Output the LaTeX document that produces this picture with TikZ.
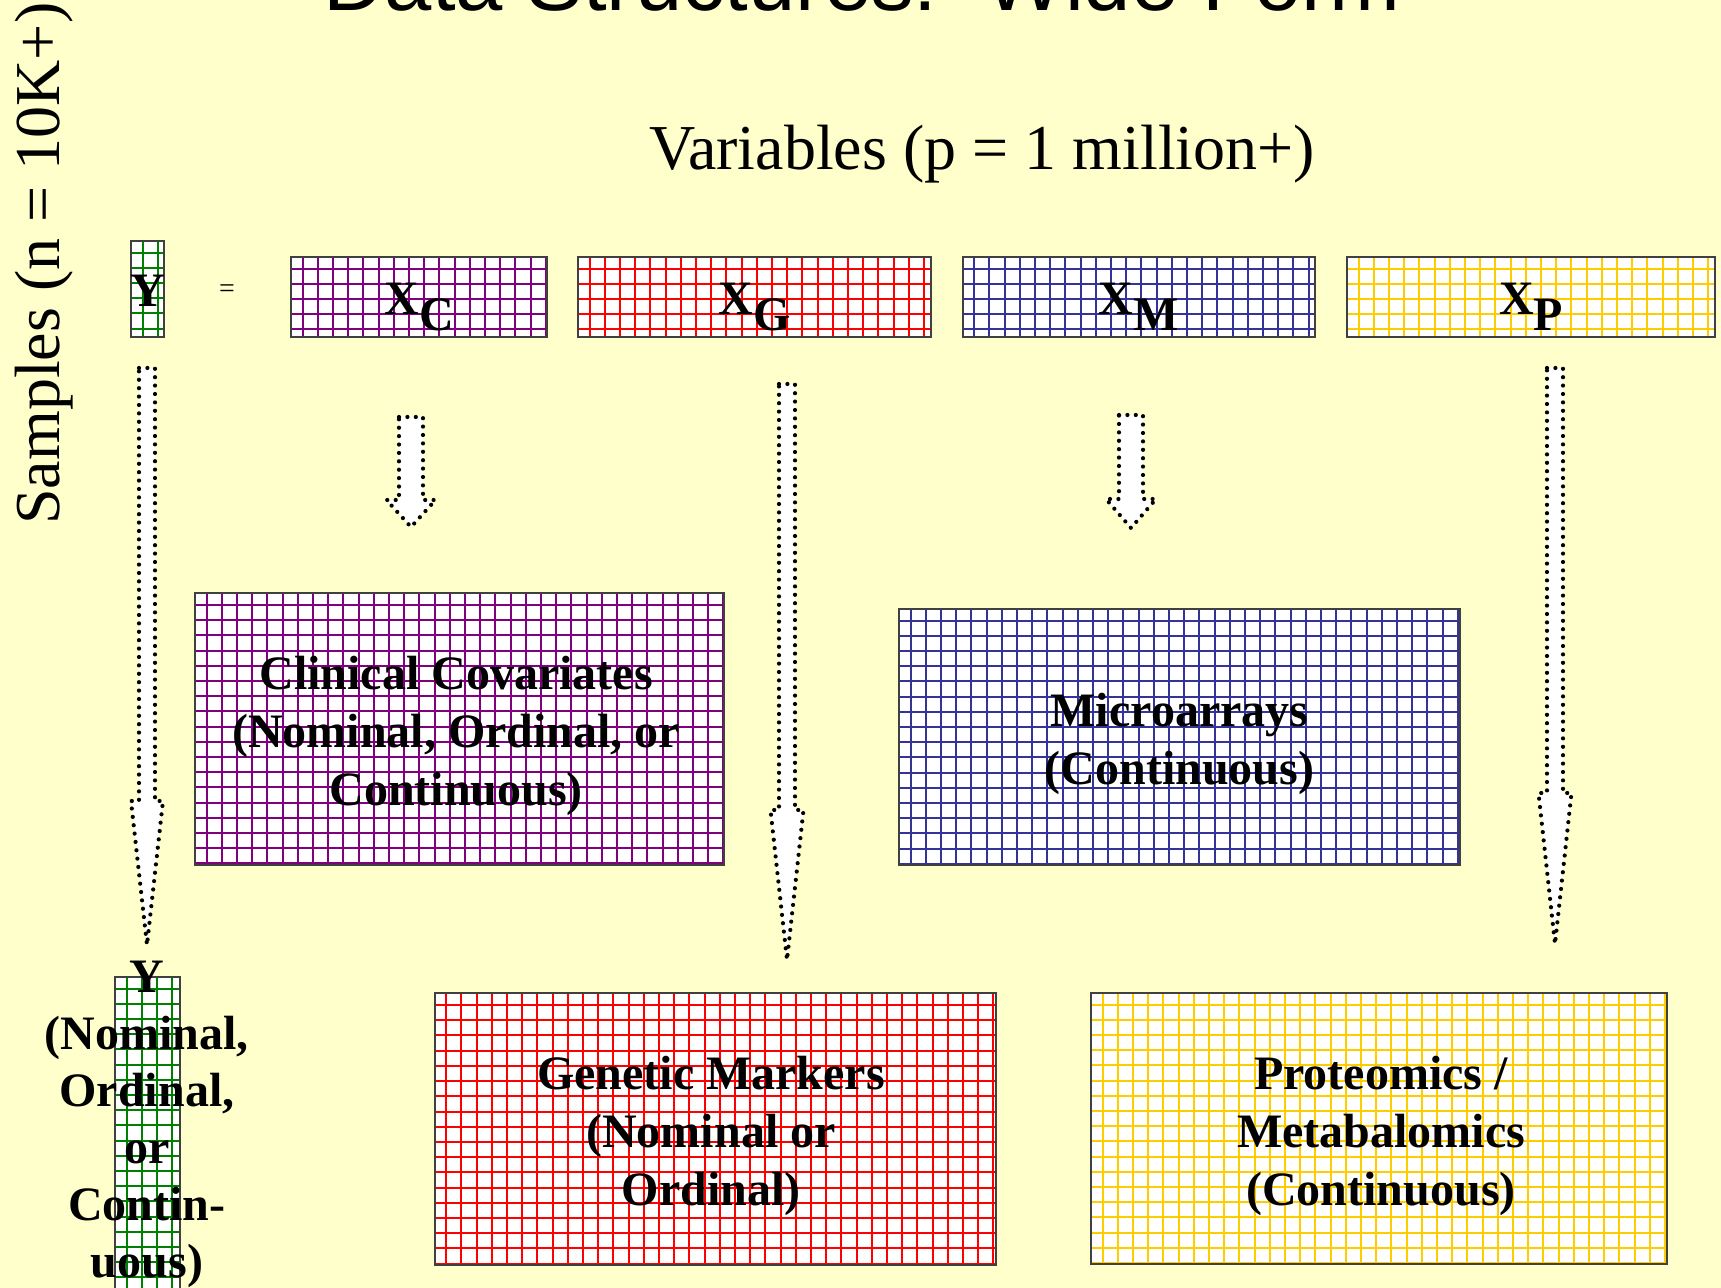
\documentclass[tikz,border=0pt]{standalone}
\usepackage{fontspec}
\setmainfont{Liberation Serif}
\newfontfamily\titlefont{Liberation Sans}
\definecolor{bg}{HTML}{FFFFCC}
\definecolor{gpurple}{HTML}{800080}
\definecolor{gred}{HTML}{FF0000}
\definecolor{gblue}{HTML}{333399}
\definecolor{ggold}{HTML}{FFCC00}
\definecolor{ggreen}{HTML}{008000}
\tikzset{
  gridbox/.style={rectangle, inner sep=0pt, outer sep=0pt, fill=white,
    draw=black!75, line width=1pt,
    path picture={
      \foreach \k in {1,...,40}{
        \draw[#1, line width=1pt]
          ([xshift=\k*7.6pt-1.8pt]path picture bounding box.north west) --
          ([xshift=\k*7.6pt-1.8pt]path picture bounding box.south west);
        \draw[#1, line width=1pt]
          ([yshift=-\k*7.6pt+1.8pt]path picture bounding box.north west) --
          ([yshift=-\k*7.6pt+1.8pt]path picture bounding box.north east);
      }}},
  boxlabel/.style={font=\fontsize{24}{29}\selectfont\bfseries, align=center, text=black, inner sep=0pt},
  xlabel/.style={font=\fontsize{24}{29}\selectfont\bfseries, anchor=base, inner sep=0pt},
  dotarrow/.style={draw=black, fill=white, line width=2.1pt, line cap=round,
    line join=round, dash pattern=on 0pt off 4.2pt}
}
\newcommand\blockarr[6]{%
  \draw[dotarrow] (#1-#5,#2) -- (#1+#5,#2) -- (#1+#5,#3) -- (#1+#6,#3) --
    (#1,#4) -- (#1-#6,#3) -- (#1-#5,#3) -- cycle;}
\begin{document}
\begin{tikzpicture}[x=0.5pt, y=-0.5pt]
\useasboundingbox (0,0) rectangle (1721,1288);
\fill[bg] (0,0) rectangle (1721,1288);

% titles
\node[font=\titlefont\fontsize{42.5}{50}\selectfont, anchor=base, inner sep=0pt] (title) at (862,11) {Data Structures:\ \ Wide Form};
\node[font=\fontsize{32}{38}\selectfont, anchor=base, inner sep=0pt] (vars) at (982,170) {Variables (p = 1 million+)};
\node[font=\fontsize{32}{38}\selectfont, anchor=base west, rotate=90, inner sep=0pt] (samples) at (60,525) {Samples (n = 10K+)};

% top row
\node[gridbox=ggreen, minimum width=16.5pt, minimum height=48pt] (ytop) at (147.5,289) {};
\node[gridbox=gpurple, minimum width=128pt, minimum height=40pt] (xc) at (419,297) {};
\node[gridbox=gred, minimum width=176.5pt, minimum height=40pt] (xg) at (754.5,297) {};
\node[gridbox=gblue, minimum width=176.25pt, minimum height=40pt] (xm) at (1138.75,297) {};
\node[gridbox=ggold, minimum width=184pt, minimum height=40pt] (xp) at (1531,297) {};
\node[xlabel] (ytoplbl) at (147.5,307) {Y};
\node[font=\fontsize{14}{16}\selectfont, inner sep=0pt] (eq) at (227,291) {=};
\node[xlabel] (xclbl) at (419,315) {X\raisebox{-8pt}{C}};
\node[xlabel] (xglbl) at (754.5,315) {X\raisebox{-8pt}{G}};
\node[xlabel] (xmlbl) at (1138.75,315) {X\raisebox{-8pt}{M}};
\node[xlabel] (xplbl) at (1531,315) {X\raisebox{-8pt}{P}};

% arrows
\blockarr{147}{368}{801}{945}{8}{16}
\blockarr{411}{417}{500}{527}{12}{24.5}
\blockarr{787}{384}{810}{960}{8}{16.5}
\blockarr{1131}{415}{499}{528}{12}{25}
\blockarr{1555}{368}{793}{944}{8}{16.5}

% big boxes
\node[gridbox=gpurple, minimum width=264.25pt, minimum height=136pt] (clin) at (459.25,729.5) {};
\node[gridbox=gblue, minimum width=280.5pt, minimum height=128pt] (micro) at (1179.5,737) {};
\node[gridbox=gred, minimum width=280.5pt, minimum height=135.5pt] (gen) at (715,1129) {};
\node[gridbox=ggold, minimum width=288pt, minimum height=135.5pt] (prot) at (1379,1128.5) {};
\node[boxlabel] (clintxt) at ([yshift=-3pt,xshift=-1.5pt]clin.center) {Clinical Covariates\\(Nominal, Ordinal, or\\Continuous)};
\node[boxlabel] (microtxt) at ([yshift=-3.5pt]micro.center) {Microarrays\\(Continuous)};
\node[boxlabel] (gentxt) at ([yshift=-3.5pt,xshift=-2pt]gen.center) {Genetic Markers\\(Nominal or\\Ordinal)};
\node[boxlabel] (prottxt) at ([yshift=-3.5pt,xshift=1pt]prot.center) {Proteomics /\\Metabalomics\\(Continuous)};

% bottom Y
\node[gridbox=ggreen, minimum width=32.5pt, minimum height=161.5pt] (ybot) at (147.5,1138.5) {};
\node[font=\fontsize{24}{28.5}\selectfont\bfseries, align=center, inner sep=0pt] (ybottxt) at (147,1124) {Y\\(Nominal,\\Ordinal,\\or\\Contin-\\uous)};
\end{tikzpicture}
\end{document}
